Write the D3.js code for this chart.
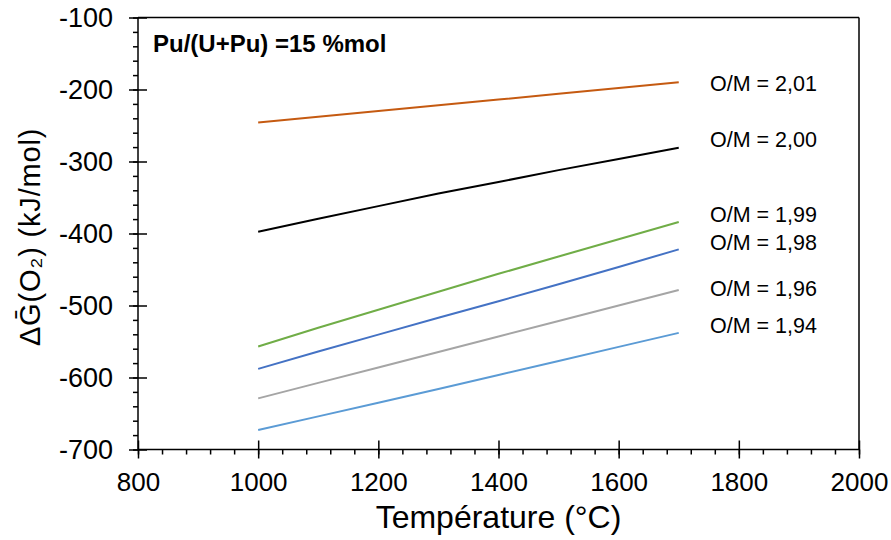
<!DOCTYPE html>
<html><head><meta charset="utf-8">
<script src="https://cdn.jsdelivr.net/npm/d3@7"></script>
<style>body{margin:0;background:#fff}svg{display:block}</style>
</head><body>
<svg id="c" width="891" height="540"></svg>
<script>
// ---- data ----
const temperatures = [1000, 1100, 1200, 1300, 1400, 1500, 1600, 1700];
const seriesNames = ["O/M = 2,01", "O/M = 2,00", "O/M = 1,99", "O/M = 1,98", "O/M = 1,96", "O/M = 1,94"];
const om201 = [-246, -238, -230, -222, -214, -206, -198, -190];
const om200 = [-397.5, -379.5, -362, -344.5, -328.5, -312, -296.5, -281];
const om199 = [-557, -531, -506, -481, -456, -432, -408, -384];
const om198 = [-588, -564, -540.5, -517, -494, -470.5, -446.5, -422];
const om196 = [-629, -607.5, -586, -564.5, -543, -521.5, -500, -478.5];
const om194 = [-673, -654, -635, -616, -596.5, -577, -557.5, -538];
const seriesColors = ["#C55A11", "#000000", "#70AD47", "#4472C4", "#A5A5A5", "#5B9BD5"];
const labelValues = [-192, -270, -374, -413, -477, -528];
const labelTemp = 1752;
const xTicks = [800, 1000, 1200, 1400, 1600, 1800, 2000];
const yTicks = [-100, -200, -300, -400, -500, -600, -700];
const titleText = "Pu/(U+Pu) =15 %mol";
const xTitle = "Température (°C)";
const yTitle = "ΔḠ(O₂) (kJ/mol)";

const seriesValues = [om201, om200, om199, om198, om196, om194];

// ---- layout ----
const svg = d3.select("#c");
const L = 138, R = 859, T = 17.5, B = 449.5;
const x = d3.scaleLinear().domain([800, 2000]).range([L, R]);
const y = d3.scaleLinear().domain([-700, -100]).range([B, T]);
const font = "Liberation Sans, Arial, sans-serif";
const fmt = d => String(d);

// frame top & right
svg.append("line").attr("x1", L).attr("x2", R).attr("y1", T).attr("y2", T).attr("stroke", "#000").attr("stroke-width", 1.5);
svg.append("line").attr("x1", R).attr("x2", R).attr("y1", T).attr("y2", B).attr("stroke", "#000").attr("stroke-width", 1.5);

// minor ticks
const xMinor = d3.range(800, 2000.1, 40);
const yMinor = d3.range(-700, -99.9, 20);
const gx = svg.append("g").attr("transform", `translate(0,${B})`);
gx.call(d3.axisBottom(x).tickValues(xMinor).tickSize(5).tickFormat(""))
  .call(g => g.select(".domain").remove())
  .call(g => g.selectAll("line").attr("stroke", "#000").attr("stroke-width", 1.5));
const gxMaj = svg.append("g").attr("transform", `translate(0,${B})`);
gxMaj.call(d3.axisBottom(x).tickValues(xTicks).tickSize(9).tickPadding(14).tickFormat(fmt))
  .call(g => g.select(".domain").attr("d", `M${L},0H${R}`).attr("stroke", "#000").attr("stroke-width", 1.5))
  .call(g => g.selectAll(".tick line").attr("y1", -9).attr("stroke", "#000").attr("stroke-width", 1.5))
  .call(g => g.selectAll("text").attr("font-family", font).attr("font-size", 26).attr("fill", "#000"));

const gy = svg.append("g").attr("transform", `translate(${L},0)`);
gy.call(d3.axisLeft(y).tickValues(yMinor).tickSize(5).tickFormat(""))
  .call(g => g.select(".domain").remove())
  .call(g => g.selectAll("line").attr("stroke", "#000").attr("stroke-width", 1.5));
const gyMaj = svg.append("g").attr("transform", `translate(${L},0)`);
gyMaj.call(d3.axisLeft(y).tickValues(yTicks).tickSize(9).tickPadding(16).tickFormat(fmt))
  .call(g => g.select(".domain").attr("d", `M0,${T}V${B}`).attr("stroke", "#000").attr("stroke-width", 1.5))
  .call(g => g.selectAll(".tick line").attr("x1", 9).attr("stroke", "#000").attr("stroke-width", 1.5))
  .call(g => g.selectAll("text").attr("font-family", font).attr("font-size", 27).attr("fill", "#000"));

// lines
const line = d3.line().x((d, i) => x(temperatures[i])).y(d => y(d));
seriesValues.forEach((vals, k) => {
  svg.append("path").attr("d", line(vals)).attr("fill", "none")
    .attr("stroke", seriesColors[k]).attr("stroke-width", 2);
  svg.append("text").attr("x", x(labelTemp)).attr("y", y(labelValues[k])).attr("dy", "0.35em")
    .attr("font-family", font).attr("font-size", 21.5).attr("fill", "#000").text(seriesNames[k]);
});

// title
svg.append("text").attr("x", 153).attr("y", 52).attr("font-family", font).attr("font-size", 24)
  .attr("font-weight", "bold").attr("fill", "#000").text(titleText);

// axis titles
svg.append("text").attr("x", (L + R) / 2).attr("y", 528).attr("text-anchor", "middle")
  .attr("font-family", font).attr("font-size", 32).attr("fill", "#000").text(xTitle);

svg.append("text").attr("transform", `translate(40,237) rotate(-90)`)
  .attr("text-anchor", "middle").attr("font-family", font).attr("font-size", 29)
  .attr("letter-spacing", 0.8).attr("fill", "#000").text(yTitle);
</script>
</body></html>
